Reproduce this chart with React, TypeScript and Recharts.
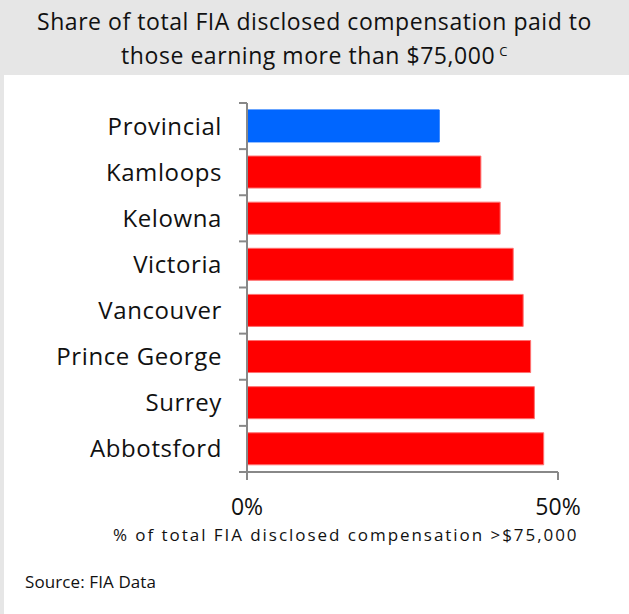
import React from "react";
import { BarChart, Bar, XAxis, YAxis, Cell } from "recharts";

const regions = [
  "Provincial",
  "Kamloops",
  "Kelowna",
  "Victoria",
  "Vancouver",
  "Prince George",
  "Surrey",
  "Abbotsford",
];
const sharePct = [30.9, 37.6, 40.7, 42.8, 44.4, 45.6, 46.2, 47.7];
const xTicks = [0, 50];

const FONT = "'Open Sans', Lato, sans-serif";
const AXIS = "#888";

const data = regions.map((name, i) => ({ name, share: sharePct[i] }));

// category label plus tick marks on the band edges (not the centres)
const CategoryTick = (props: any) => {
  const { x, y, payload, index, visibleTicksCount } = props;
  const half = payload.offset || 0;
  return (
    <g>
      <line x1={x - 8} x2={x} y1={y - half} y2={y - half} stroke={AXIS} strokeWidth={2} />
      {index === visibleTicksCount - 1 && (
        <line x1={x - 8} x2={x} y1={y + half} y2={y + half} stroke={AXIS} strokeWidth={2} />
      )}
      <text
        x={x - 25}
        y={y}
        dy="0.355em"
        textAnchor="end"
        fontSize={24}
        fill="#111"
        fontFamily={FONT}
        letterSpacing={0.6}
      >
        {payload.value}
      </text>
    </g>
  );
};

const App = () => {
  return (
    <div
      style={{
        position: "fixed",
        left: 0,
        top: 0,
        width: 629,
        height: 614,
        background: "#fff",
        fontFamily: FONT,
        overflow: "hidden",
      }}
    >
      {/* grey frame: header band + left strip */}
      <div style={{ position: "absolute", left: 0, top: 0, width: 629, height: 75, background: "#e6e6e6" }} />
      <div style={{ position: "absolute", left: 0, top: 0, width: 4, height: 614, background: "#e6e6e6" }} />
      <div
        style={{
          position: "absolute",
          left: 0,
          top: 6,
          width: 629,
          textAlign: "center",
          fontSize: 23,
          lineHeight: "30px",
          letterSpacing: 0.55,
          color: "#111",
        }}
      >
        Share of total FIA disclosed compensation paid to
        <br />
        those earning more than $75,000
        <sup style={{ fontSize: 13, marginLeft: 4, verticalAlign: 8 }}>C</sup>
      </div>

      <div style={{ position: "absolute", left: 0, top: 0 }}>
        <BarChart
          layout="vertical"
          width={629}
          height={614}
          data={data}
          margin={{ top: 103, right: 71, bottom: 102, left: 0 }}
          barCategoryGap="15%"
        >
          <YAxis
            type="category"
            dataKey="name"
            width={247}
            stroke={AXIS}
            strokeWidth={2}
            tickLine={false}
            tickSize={0}
            tickMargin={0}
            interval={0}
            tick={<CategoryTick />}
          />
          <XAxis
            type="number"
            domain={[0, 50]}
            ticks={xTicks}
            tickFormatter={(v: number) => `${v}%`}
            height={40}
            stroke={AXIS}
            strokeWidth={2}
            tickSize={8}
            tick={{ fontSize: 23, fill: "#111", fontFamily: FONT, dy: 17 }}
          />
          <Bar dataKey="share" strokeWidth={1} isAnimationActive={false}>
            {data.map((d, i) => (
              <Cell key={d.name} fill={i === 0 ? "#0066ff" : "#ff0000"} stroke={i === 0 ? "#0066ff" : "#ff7070"} />
            ))}
          </Bar>
        </BarChart>
      </div>

      <div style={{ position: "absolute", left: 113, top: 523, fontSize: 17, letterSpacing: 1.95, color: "#111" }}>
        % of total FIA disclosed compensation &gt;$75,000
      </div>
      <div style={{ position: "absolute", left: 25, top: 570, fontSize: 17, letterSpacing: 0.1, color: "#111" }}>
        Source: FIA Data
      </div>
    </div>
  );
};

export default App;
